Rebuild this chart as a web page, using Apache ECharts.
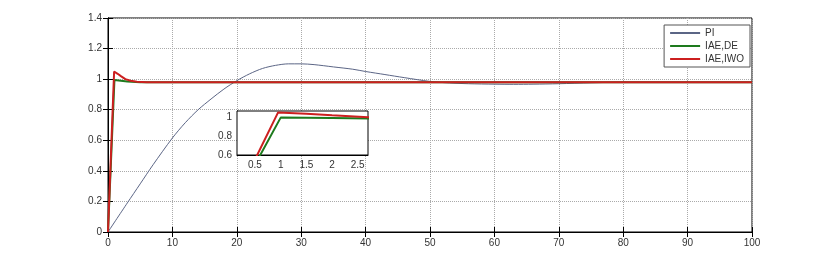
<!DOCTYPE html>
<html><head><meta charset="utf-8">
<script src="https://cdn.jsdelivr.net/npm/echarts@6/dist/echarts.min.js"></script>
<style>html,body{margin:0;padding:0;background:#fff}#c{width:833px;height:260px}</style>
</head><body><div id="c"></div>
<script>
const seriesNames = ['PI', 'IAE,DE', 'IAE,IWO'];
const piT = [0,3,5,7,10,12,14,16,18,20,22,24,26,28,30,32,35,38,40,43,46,50,53,56,60,63,66,70,75,80,85,90,100];
const piV = [0,0.19,0.315,0.44,0.615,0.715,0.80,0.87,0.935,0.99,1.035,1.07,1.09,1.10,1.10,1.095,1.08,1.065,1.05,1.03,1.01,0.985,0.975,0.97,0.967,0.966,0.967,0.97,0.976,0.98,0.98,0.98,0.98];
const deT = [0,1,2,3,5,100];
const deV = [0,0.995,0.99,0.985,0.98,0.98];
const iwoT = [0,0.95,1.5,2,2.7,3.5,4.5,6,100];
const iwoV = [0,1.05,1.035,1.02,1.0,0.99,0.983,0.98,0.98];
const xTicks = [0,10,20,30,40,50,60,70,80,90,100];
const yTicks = [0,0.2,0.4,0.6,0.8,1,1.2,1.4];
const insetXTicks = [0.5,1,1.5,2,2.5];
const insetYTicks = [0.6,0.8,1];

const pairs = (t, v) => t.map((x, i) => [x, v[i]]);
const colors = ['#5b6585', '#1d7a1d', '#cc1f1f'];
const widths = [1, 2, 2];
const smooths = [0.3, false, false];
const datasets = [pairs(piT, piV), pairs(deT, deV), pairs(iwoT, iwoV)];
const font = {fontFamily: 'Liberation Sans', fontSize: 10, color: '#333'};
const grid = {type: 'dotted', color: '#aaa', width: 1};

const chart = echarts.init(document.getElementById('c'));
const series = [];
[0, 1].forEach(g => {
  datasets.forEach((d, i) => {
    series.push({
      name: seriesNames[i], type: 'line', data: d, xAxisIndex: g === 0 ? 0 : 2, yAxisIndex: g === 0 ? 0 : 2,
      showSymbol: false, symbol: 'none', clip: true, animation: false, smooth: smooths[i],
      lineStyle: {color: colors[i], width: widths[i]}, itemStyle: {color: colors[i]}, z: 2 + i + g * 10
    });
  });
});
chart.setOption({
  animation: false,
  backgroundColor: '#fff',
  grid: [
    {left: 108, right: 81, top: 18, bottom: 28, show: true, borderColor: '#000', borderWidth: 1, backgroundColor: '#fff'},
    {left: 237, top: 111, width: 131, height: 44, show: true, borderColor: '#000', borderWidth: 1, backgroundColor: '#fff', z: 10}
  ],
  legend: {
    data: seriesNames, right: 83, top: 25, orient: 'vertical', itemGap: 3, itemWidth: 30, itemHeight: 2,
    padding: [3, 6, 3, 6], borderColor: '#555', borderWidth: 1, backgroundColor: '#fff',
    icon: 'rect', textStyle: {fontFamily: 'Liberation Sans', fontSize: 10, color: '#333', padding: [0,0,0,0]}
  },
  xAxis: [
    {gridIndex: 0, type: 'value', min: 0, max: 100, interval: 10, axisLine: {lineStyle: {color: '#000'}},
     axisTick: {inside: true, length: 5, lineStyle: {color: '#000'}}, axisLabel: Object.assign({margin: 6}, font),
     splitLine: {show: true, lineStyle: grid}},
    {gridIndex: 0, type: 'value', position: 'top', min: 0, max: 100, interval: 10, axisLine: {lineStyle: {color: '#000'}},
     axisTick: {inside: true, length: 5, lineStyle: {color: '#000'}}, axisLabel: {show: false}, splitLine: {show: false}},
    {gridIndex: 1, type: 'value', min: 0.15, max: 2.7, axisLine: {lineStyle: {color: '#000'}},
     axisTick: {inside: true, length: 3, customValues: insetXTicks, lineStyle: {color: '#000'}},
     axisLabel: Object.assign({margin: 5, customValues: insetXTicks}, font),
     splitLine: {show: true, lineStyle: grid}}
  ],
  yAxis: [
    {gridIndex: 0, type: 'value', min: 0, max: 1.4, interval: 0.2, axisLine: {show: true, lineStyle: {color: '#000'}},
     axisTick: {show: true, inside: true, length: 5, lineStyle: {color: '#000'}}, axisLabel: Object.assign({margin: 6}, font),
     splitLine: {show: true, lineStyle: grid}},
    {gridIndex: 0, type: 'value', position: 'right', min: 0, max: 1.4, interval: 0.2, axisLine: {show: true, lineStyle: {color: '#000'}},
     axisTick: {show: true, inside: true, length: 5, lineStyle: {color: '#000'}}, axisLabel: {show: false}, splitLine: {show: false}},
    {gridIndex: 1, type: 'value', min: 0.6, max: 1.065, axisLine: {show: true, lineStyle: {color: '#000'}},
     axisTick: {show: true, inside: true, length: 3, customValues: insetYTicks, lineStyle: {color: '#000'}},
     axisLabel: Object.assign({margin: 5, customValues: insetYTicks}, font),
     splitLine: {show: true, lineStyle: grid}}
  ],
  series: series
});
</script></body></html>
